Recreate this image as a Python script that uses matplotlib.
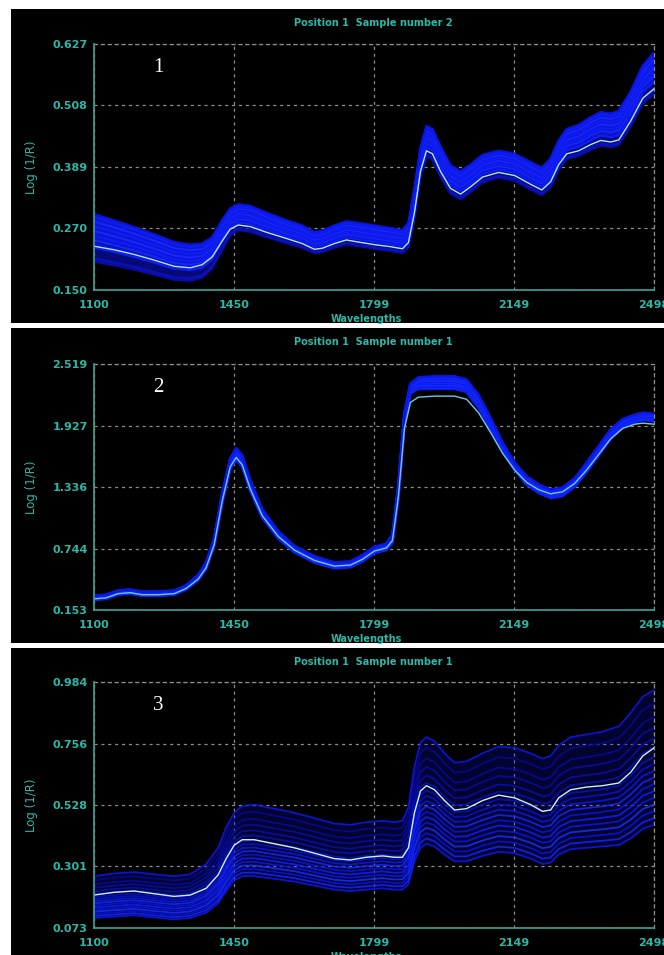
import matplotlib
matplotlib.use("Agg")
import matplotlib.pyplot as plt
from matplotlib.patches import Rectangle
import numpy as np

W, H = 664, 955

# ---------------- data ----------------
x_ticks = [1100, 1450, 1799, 2149, 2498]
x_tick_labels = ["1100", "1450", "1799", "2149", "2498"]

titles = ["Position 1  Sample number 2", "Position 1  Sample number 1", "Position 1  Sample number 1"]
panel_numbers = ["1", "2", "3"]

y1_ticks = [0.150, 0.270, 0.389, 0.508, 0.627]
y1_labels = ["0.150", "0.270", "0.389", "0.508", "0.627"]
y2_ticks = [0.153, 0.744, 1.336, 1.927, 2.519]
y2_labels = ["0.153", "0.744", "1.336", "1.927", "2.519"]
y3_ticks = [0.073, 0.301, 0.528, 0.756, 0.984]
y3_labels = ["0.073", "0.301", "0.528", "0.756", "0.984"]

# Panel 1
wl1 = [1100, 1150, 1200, 1250, 1300, 1340, 1370, 1395, 1420, 1440, 1460, 1490, 1530, 1580, 1620, 1650,
       1670, 1700, 1730, 1760, 1800, 1840, 1870, 1885, 1900, 1915, 1930, 1945, 1965, 1990, 2015, 2040,
       2070, 2110, 2150, 2190, 2218, 2240, 2260, 2280, 2310, 2340, 2365, 2390, 2410, 2440, 2470, 2498]
hl1 = [0.235, 0.228, 0.219, 0.208, 0.196, 0.193, 0.199, 0.214, 0.245, 0.268, 0.276, 0.273, 0.262, 0.250,
       0.240, 0.229, 0.231, 0.240, 0.247, 0.243, 0.238, 0.234, 0.230, 0.242, 0.300, 0.380, 0.420, 0.414,
       0.380, 0.347, 0.336, 0.350, 0.369, 0.378, 0.372, 0.355, 0.344, 0.360, 0.393, 0.414, 0.420, 0.432,
       0.440, 0.437, 0.441, 0.478, 0.522, 0.540]
up1 = [0.297, 0.285, 0.272, 0.258, 0.243, 0.238, 0.240, 0.252, 0.285, 0.308, 0.316, 0.313, 0.300, 0.285,
       0.275, 0.262, 0.265, 0.275, 0.283, 0.280, 0.275, 0.270, 0.266, 0.280, 0.345, 0.425, 0.468, 0.462,
       0.428, 0.392, 0.380, 0.393, 0.412, 0.420, 0.414, 0.398, 0.387, 0.405, 0.440, 0.462, 0.470, 0.485,
       0.495, 0.492, 0.497, 0.535, 0.585, 0.610]
lo1 = [0.205, 0.198, 0.190, 0.180, 0.170, 0.168, 0.174, 0.192, 0.228, 0.256, 0.266, 0.263, 0.253, 0.241,
       0.232, 0.222, 0.224, 0.232, 0.239, 0.235, 0.230, 0.226, 0.222, 0.233, 0.290, 0.370, 0.408, 0.403,
       0.370, 0.337, 0.326, 0.340, 0.359, 0.368, 0.362, 0.345, 0.334, 0.350, 0.383, 0.404, 0.410, 0.422,
       0.430, 0.427, 0.431, 0.468, 0.512, 0.530]
fr1 = [0.0, 0.06, 0.30, 0.38, 0.45, 0.50, 0.55, 0.60, 0.65, 0.70, 0.75, 0.80, 0.85, 0.90, 0.95, 1.0]

# Panel 2
wl2 = [1100, 1130, 1160, 1190, 1220, 1260, 1300, 1330, 1360, 1380, 1400, 1420, 1440, 1455, 1470, 1490,
       1520, 1560, 1600, 1650, 1700, 1740, 1770, 1800, 1830, 1845, 1860, 1875, 1890, 1910, 1950, 2000,
       2030, 2060, 2090, 2120, 2150, 2180, 2210, 2240, 2270, 2300, 2330, 2360, 2390, 2420, 2450, 2470, 2498]
hl2 = [0.26, 0.27, 0.31, 0.32, 0.30, 0.30, 0.31, 0.36, 0.45, 0.56, 0.78, 1.20, 1.53, 1.62, 1.55, 1.32,
       1.06, 0.86, 0.73, 0.63, 0.575, 0.585, 0.64, 0.72, 0.75, 0.82, 1.25, 1.90, 2.15, 2.20, 2.21, 2.21,
       2.18, 2.05, 1.86, 1.66, 1.50, 1.38, 1.31, 1.27, 1.29, 1.37, 1.50, 1.65, 1.80, 1.90, 1.94, 1.95, 1.94]
up2 = [0.29, 0.30, 0.34, 0.35, 0.33, 0.33, 0.34, 0.39, 0.49, 0.61, 0.84, 1.27, 1.61, 1.71, 1.64, 1.40,
       1.12, 0.91, 0.77, 0.67, 0.61, 0.62, 0.68, 0.76, 0.79, 0.88, 1.35, 2.05, 2.33, 2.39, 2.40, 2.40,
       2.37, 2.22, 2.00, 1.76, 1.57, 1.44, 1.36, 1.31, 1.33, 1.42, 1.57, 1.73, 1.89, 1.99, 2.03, 2.05, 2.04]
lo2 = [0.25, 0.26, 0.30, 0.31, 0.29, 0.29, 0.30, 0.35, 0.44, 0.55, 0.77, 1.18, 1.51, 1.60, 1.53, 1.30,
       1.04, 0.84, 0.71, 0.61, 0.555, 0.565, 0.62, 0.70, 0.73, 0.80, 1.24, 1.95, 2.24, 2.28, 2.28, 2.28,
       2.25, 2.10, 1.89, 1.68, 1.50, 1.36, 1.28, 1.23, 1.25, 1.34, 1.48, 1.64, 1.80, 1.91, 1.96, 1.98, 1.97]
fr2 = [0.0, 0.1, 0.2, 0.3, 0.4, 0.5, 0.6, 0.7, 0.8, 0.9, 1.0]

# Panel 3
wl3 = [1100, 1150, 1200, 1250, 1300, 1340, 1380, 1410, 1430, 1450, 1470, 1500, 1550, 1600, 1650, 1700,
       1740, 1780, 1820, 1850, 1870, 1885, 1900, 1915, 1930, 1950, 1975, 2000, 2030, 2070, 2110, 2150,
       2190, 2220, 2240, 2260, 2290, 2330, 2370, 2410, 2440, 2470, 2498]
hl3 = [0.195, 0.205, 0.21, 0.20, 0.19, 0.195, 0.22, 0.27, 0.33, 0.38, 0.40, 0.40, 0.385, 0.37, 0.35, 0.33,
       0.325, 0.335, 0.34, 0.335, 0.335, 0.37, 0.50, 0.58, 0.60, 0.585, 0.545, 0.51, 0.515, 0.545, 0.565,
       0.555, 0.53, 0.505, 0.51, 0.555, 0.585, 0.595, 0.60, 0.61, 0.65, 0.71, 0.74]
up3 = [0.265, 0.275, 0.28, 0.272, 0.265, 0.272, 0.31, 0.37, 0.445, 0.50, 0.525, 0.53, 0.515, 0.50, 0.48,
       0.46, 0.455, 0.465, 0.47, 0.465, 0.47, 0.52, 0.67, 0.76, 0.78, 0.765, 0.72, 0.685, 0.69, 0.72, 0.745,
       0.74, 0.72, 0.70, 0.71, 0.75, 0.78, 0.79, 0.80, 0.82, 0.87, 0.93, 0.955]
lo3 = [0.11, 0.115, 0.12, 0.112, 0.105, 0.11, 0.13, 0.165, 0.21, 0.25, 0.265, 0.265, 0.255, 0.245, 0.23,
       0.215, 0.21, 0.215, 0.22, 0.215, 0.215, 0.235, 0.32, 0.37, 0.385, 0.375, 0.345, 0.32, 0.32, 0.34,
       0.355, 0.35, 0.33, 0.31, 0.315, 0.345, 0.365, 0.37, 0.375, 0.38, 0.405, 0.44, 0.455]
fr3 = [0.0, 0.05, 0.10, 0.15, 0.20, 0.25, 0.30, 0.35, 0.40, 0.45, 0.50, 0.57, 0.64, 0.72, 0.80, 0.90, 1.0]

# ---------------- style ----------------
TEAL = "#2bb8a8"
SPINE = "#3aa595"
GRID = "#8c8c8c"

colors1 = ["#0a0ca8", "#0c10c0"] + ["#1020ff", "#0a16ea", "#1a2cff", "#0c18e0"] * 4 + ["#1424f8", "#0a14e0"]
colors2 = ["#0c1cf0", "#1428ff", "#0a18e4", "#1830ff"] * 3
colors3 = (["#0c18f0", "#1424ff", "#0a12e0", "#1830ff", "#0c16e8", "#1020ff",
            "#0a14e0", "#1428f8", "#0c18e8", "#0a12d0", "#0a10c4"]
           + ["#0a10b8", "#080eac", "#080ca4", "#06099c", "#060894"])

fig = plt.figure(figsize=(W / 100, H / 100), dpi=100, facecolor="white")

panels = [
    dict(black=(9, 323), axes=(44, 290), wl=wl1, hl=hl1, up=up1, lo=lo1, fr=fr1, cols=colors1,
         ticks=y1_ticks, labels=y1_labels, lw=1.8, hlc="#b0e6ff", alpha=0.9, fill=0.55),
    dict(black=(328, 643), axes=(364, 610), wl=wl2, hl=hl2, up=up2, lo=lo2, fr=fr2, cols=colors2,
         ticks=y2_ticks, labels=y2_labels, lw=2.0, hlc="#70c8e6", alpha=0.95, fill=0.6),
    dict(black=(648, 955), axes=(682, 928), wl=wl3, hl=hl3, up=up3, lo=lo3, fr=fr3, cols=colors3,
         ticks=y3_ticks, labels=y3_labels, lw=1.3, hlc="#c8f2ff", alpha=0.85, fill=0.22),
]

for i, p in enumerate(panels):
    bt, bb = p["black"]
    fig.patches.append(Rectangle((11 / W, 1 - bb / H), (W - 11) / W, (bb - bt) / H,
                                 transform=fig.transFigure, facecolor="black",
                                 edgecolor="none", zorder=-10))
    at, ab = p["axes"]
    ax = fig.add_axes([94 / W, 1 - ab / H, 560 / W, (ab - at) / H])
    ax.set_zorder(2)
    ax.set_facecolor("black")
    ax.set_xlim(x_ticks[0], x_ticks[-1])
    ax.set_ylim(p["ticks"][0], p["ticks"][-1])
    ax.set_xticks(x_ticks)
    ax.set_xticklabels(x_tick_labels)
    ax.set_yticks(p["ticks"])
    ax.set_yticklabels(p["labels"])
    ax.tick_params(axis="both", length=0, colors=TEAL, labelsize=8)
    ax.tick_params(axis="x", pad=7)
    ax.tick_params(axis="y", pad=4.5)
    for lab in ax.get_xticklabels() + ax.get_yticklabels():
        lab.set_fontweight("bold")
        lab.set_color(TEAL)
    ax.grid(True, color=GRID, linestyle=(0, (2.5, 3)), linewidth=0.9)
    for s in ["left", "bottom"]:
        ax.spines[s].set_color(SPINE)
        ax.spines[s].set_linewidth(1.2)
        ax.spines[s].set_zorder(5)
    for s in ["top", "right"]:
        ax.spines[s].set_color(GRID)
        ax.spines[s].set_linestyle((0, (2.5, 3)))
        ax.spines[s].set_linewidth(0.9)
    ax.set_axisbelow(True)

    wl = np.array(p["wl"])
    up = np.array(p["up"])
    lo = np.array(p["lo"])
    ax.fill_between(wl, lo, up, color="#0a14d8", alpha=p["fill"], lw=0, zorder=2)
    for k, f in enumerate(p["fr"]):
        ax.plot(wl, lo + f * (up - lo), color=p["cols"][k % len(p["cols"])], lw=p["lw"],
                alpha=p["alpha"], zorder=3, solid_capstyle="round")
    ax.plot(wl, p["hl"], color=p["hlc"], lw=1.0, zorder=4)

    # title, labels
    fig.text(373 / W, 1 - (bt + 14) / H, titles[i], color=TEAL, fontsize=7,
             fontweight="bold", ha="center", va="center", zorder=5)
    fig.text(32 / W, 1 - ((at + ab) / 2) / H, "Log (1/R)", color=TEAL, fontsize=8.5,
             rotation=90, ha="center", va="center", zorder=5)
    fig.text(366 / W, 1 - (ab + 24) / H, "Wavelengths", color=TEAL, fontsize=7,
             fontweight="bold", ha="center", va="top", zorder=5)
    fig.text(158 / W, 1 - (at + 23) / H, panel_numbers[i], color="white", fontsize=15,
             family="Liberation Serif", ha="center", va="center", zorder=5)

fig.savefig("out.png", dpi=100, facecolor="white")
